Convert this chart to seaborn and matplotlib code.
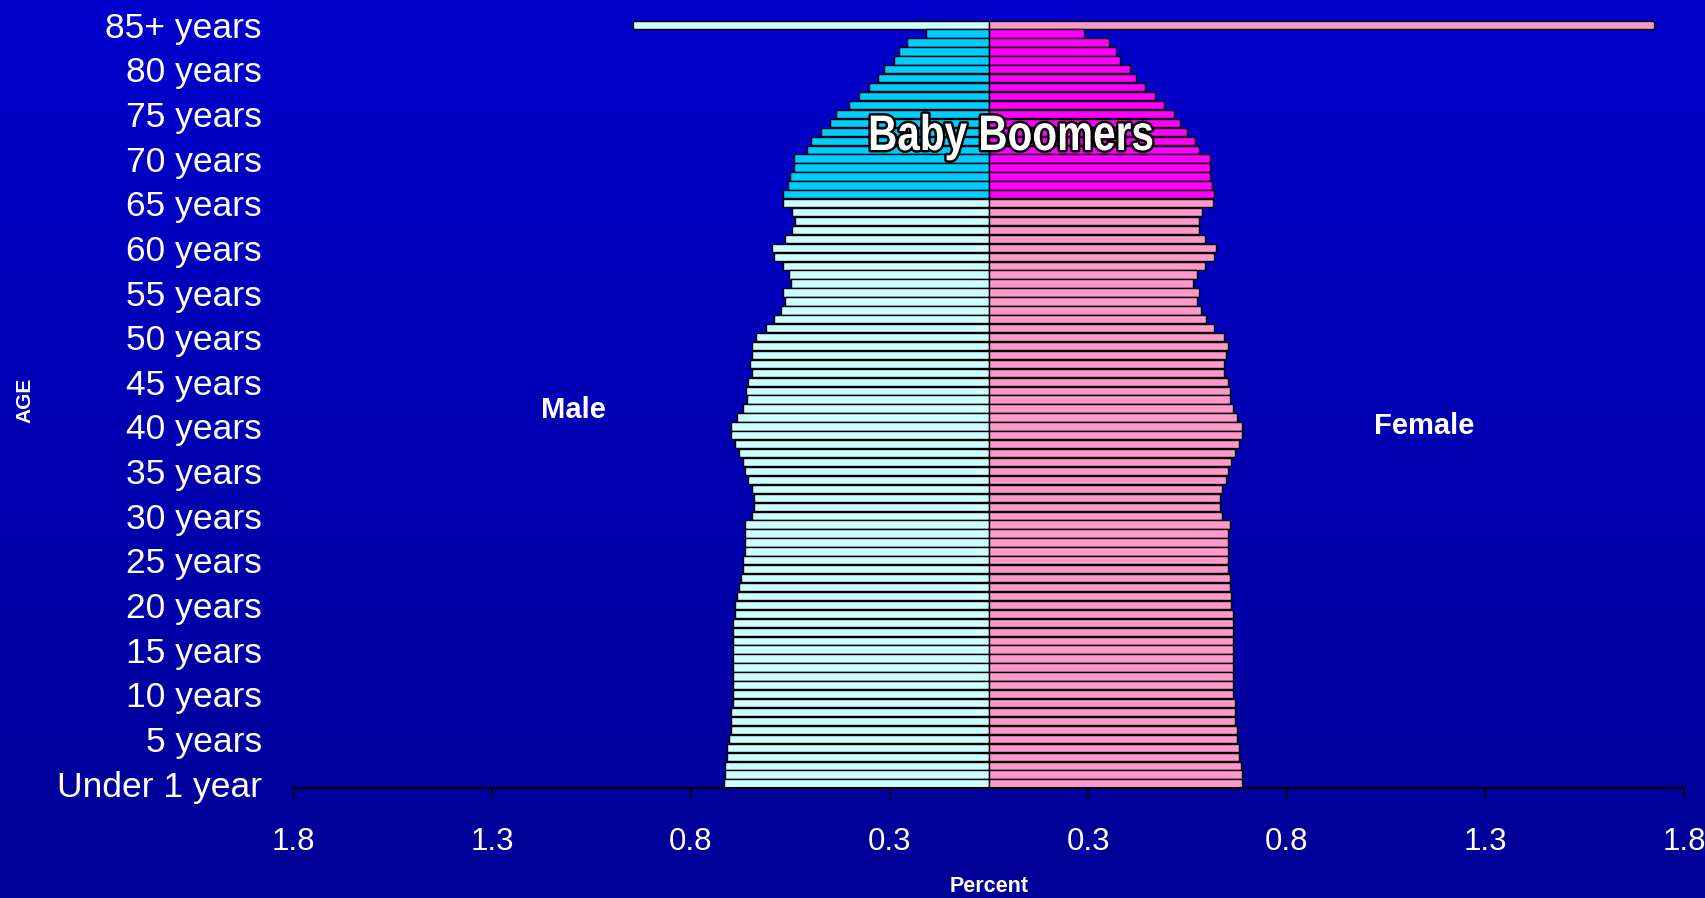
import numpy as np
import pandas as pd
import matplotlib
matplotlib.use("Agg")
import matplotlib.pyplot as plt
from matplotlib.textpath import TextPath
from matplotlib.font_manager import FontProperties
from matplotlib.patches import PathPatch
from matplotlib.transforms import Affine2D, IdentityTransform
import seaborn as sns


# =========================
# Data (percent of population, age 0 -> 85+)
# =========================

AGE_LABELS = ["Under 1 year"] + [f"{a} years" for a in range(1, 85)] + ["85+ years"]

SHOWN_LABELS = ["Under 1 year", "5 years", "10 years", "15 years", "20 years",
                "25 years", "30 years", "35 years", "40 years", "45 years",
                "50 years", "55 years", "60 years", "65 years", "70 years",
                "75 years", "80 years", "85+ years"]

MALE = [0.668, 0.664, 0.664, 0.659, 0.659, 0.654, 0.649, 0.649, 0.649, 0.645,
        0.645, 0.645, 0.645, 0.645, 0.645, 0.645, 0.645, 0.645, 0.645, 0.640,
        0.640, 0.635, 0.630, 0.625, 0.620, 0.620, 0.615, 0.615, 0.615, 0.615,
        0.596, 0.592, 0.592, 0.596, 0.606, 0.615, 0.620, 0.630, 0.640, 0.649,
        0.649, 0.635, 0.620, 0.610, 0.611, 0.606, 0.596, 0.601, 0.596, 0.596,
        0.587, 0.562, 0.542, 0.523, 0.514, 0.518, 0.499, 0.504, 0.518, 0.542,
        0.547, 0.514, 0.495, 0.489, 0.495, 0.518, 0.519, 0.505, 0.500, 0.491,
        0.491, 0.457, 0.447, 0.423, 0.399, 0.385, 0.351, 0.327, 0.303, 0.279,
        0.264, 0.240, 0.226, 0.207, 0.159, 0.895]

FEMALE = [0.638, 0.638, 0.634, 0.629, 0.629, 0.624, 0.624, 0.620, 0.620, 0.620,
          0.614, 0.614, 0.614, 0.614, 0.614, 0.614, 0.614, 0.614, 0.614, 0.614,
          0.610, 0.610, 0.606, 0.606, 0.601, 0.601, 0.601, 0.601, 0.601, 0.606,
          0.586, 0.581, 0.581, 0.586, 0.596, 0.601, 0.610, 0.620, 0.629, 0.638,
          0.638, 0.624, 0.614, 0.606, 0.606, 0.601, 0.591, 0.591, 0.596, 0.601,
          0.591, 0.567, 0.547, 0.533, 0.523, 0.528, 0.514, 0.523, 0.543, 0.567,
          0.571, 0.543, 0.528, 0.528, 0.537, 0.563, 0.567, 0.562, 0.557, 0.557,
          0.557, 0.528, 0.518, 0.499, 0.480, 0.465, 0.441, 0.418, 0.394, 0.370,
          0.355, 0.331, 0.321, 0.302, 0.239, 1.674]

# baby boomer cohort highlighted (ages 66-84)
BOOMER_FIRST = 66
BOOMER_LAST = 84

X_TICKS = [-1.75, -1.25, -0.75, -0.25, 0.25, 0.75, 1.25, 1.75]
X_TICK_LABELS = ["1.8", "1.3", "0.8", "0.3", "0.3", "0.8", "1.3", "1.8"]

# =========================
# Style
# =========================

MALE_COLORS = {"other": "#CCFFFF", "boomer": "#00CCFF"}
FEMALE_COLORS = {"other": "#FF99CC", "boomer": "#FF00FF"}

BG_TOP = np.array([0, 0, 205]) / 255
BG_BOTTOM = np.array([0, 0, 150]) / 255

plt.rcParams["font.family"] = ["Liberation Sans", "DejaVu Sans"]


def build_frame():
    ages = np.arange(len(AGE_LABELS))
    group = np.where((ages >= BOOMER_FIRST) & (ages <= BOOMER_LAST), "boomer", "other")
    return pd.DataFrame({
        "age": AGE_LABELS,
        "male": -np.array(MALE),
        "female": np.array(FEMALE),
        "group": group,
    })


def add_condensed_title(fig, text, cx, baseline, size, squeeze):
    # narrow bold lettering with a black outline (pixel coordinates)
    fp = FontProperties(family="Liberation Sans", weight="bold")
    tp = TextPath((0, 0), text, size=size, prop=fp)
    ext = tp.get_extents()
    tr = (Affine2D().translate(-(ext.x0 + ext.width / 2), 0)
          .scale(squeeze, 1).translate(cx, baseline))
    path = tr.transform_path(tp)
    fig.add_artist(PathPatch(path, transform=IdentityTransform(),
                             facecolor="none", edgecolor="black", lw=3.5,
                             joinstyle="round", zorder=5))
    fig.add_artist(PathPatch(path, transform=IdentityTransform(),
                             facecolor="white", edgecolor="none", zorder=6))


def main():
    df = build_frame()
    order = AGE_LABELS[::-1]

    fig = plt.figure(figsize=(17.06, 8.98), dpi=100)

    # gradient background
    bg = fig.add_axes([0, 0, 1, 1], zorder=-10)
    t = np.linspace(0, 1, 256)[:, None, None]
    grad = BG_TOP[None, None, :] * (1 - t) + BG_BOTTOM[None, None, :] * t
    grad = np.repeat(grad, 2, axis=1)
    bg.imshow(grad, aspect="auto", extent=[0, 1, 0, 1])
    bg.axis("off")

    ax = fig.add_axes([0.1722, 0.1225, 0.8149, 0.855])
    ax.set_facecolor("none")

    for col, pal in (("male", MALE_COLORS), ("female", FEMALE_COLORS)):
        sns.barplot(data=df, x=col, y="age", hue="group", order=order,
                    palette=pal, saturation=1, dodge=False, width=0.93,
                    orient="h", edgecolor="black", linewidth=1.0,
                    errorbar=None, legend=False, ax=ax)

    ax.set_xlim(-1.75, 1.75)
    ax.set_ylim(len(order) - 0.5, -0.5)

    # axes + ticks
    for side in ("top", "right", "left"):
        ax.spines[side].set_visible(False)
    ax.spines["bottom"].set_color("black")
    ax.spines["bottom"].set_linewidth(1.5)

    ax.set_xticks(X_TICKS)
    ax.set_xticklabels(X_TICK_LABELS, fontsize=22.5, color="white")
    ax.tick_params(axis="x", direction="out", length=8, width=1.1,
                   color="black", pad=20)

    ax.set_yticks([order.index(lab) for lab in SHOWN_LABELS])
    ax.set_yticklabels(SHOWN_LABELS, fontsize=25.5, color="white")
    ax.tick_params(axis="y", length=0, pad=23)

    ax.set_xlabel("")
    ax.set_ylabel("")

    # annotations
    ax.text(-1.045, 43.2, "Male", color="white", fontsize=21,
            fontweight="bold", ha="center", va="center")
    ax.text(1.096, 45.0, "Female", color="white", fontsize=21,
            fontweight="bold", ha="center", va="center")
    add_condensed_title(fig, "Baby Boomers", cx=1011.5, baseline=898 - 150,
                        size=50, squeeze=0.81)

    fig.text(988.8 / 1706, 1 - 886 / 898, "Percent", color="white",
             fontsize=15.5, fontweight="bold", ha="center", va="center")
    fig.text(25 / 1706, 1 - 400 / 898, "AGE", color="white", fontsize=15,
             fontweight="bold", rotation=90, ha="center", va="center")

    fig.savefig("out.png", dpi=100)
    plt.close(fig)


if __name__ == "__main__":
    main()
